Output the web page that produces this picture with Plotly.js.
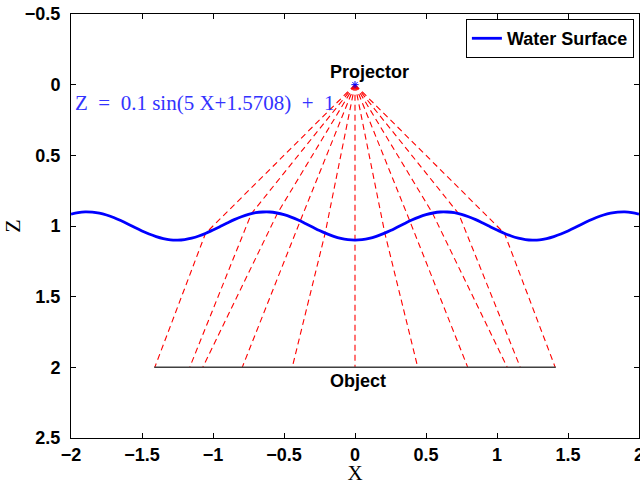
<!DOCTYPE html>
<html>
<head>
<meta charset="utf-8">
<script src="https://cdn.plot.ly/plotly-3.0.1.min.js"></script>
<style>html,body{margin:0;padding:0;background:#fff;}#chart{width:640px;height:485px;}</style>
</head>
<body>
<div id="chart"></div>
<script>
// Water surface samples (X, Z)
const surfX = [-2.00,-1.95,-1.90,-1.85,-1.80,-1.75,-1.70,-1.65,-1.60,-1.55,-1.50,-1.45,-1.40,-1.35,-1.30,-1.25,-1.20,-1.15,-1.10,-1.05,-1.00,-0.95,-0.90,-0.85,-0.80,-0.75,-0.70,-0.65,-0.60,-0.55,-0.50,-0.45,-0.40,-0.35,-0.30,-0.25,-0.20,-0.15,-0.10,-0.05,0.00,0.05,0.10,0.15,0.20,0.25,0.30,0.35,0.40,0.45,0.50,0.55,0.60,0.65,0.70,0.75,0.80,0.85,0.90,0.95,1.00,1.05,1.10,1.15,1.20,1.25,1.30,1.35,1.40,1.45,1.50,1.55,1.60,1.65,1.70,1.75,1.80,1.85,1.90,1.95,2.00];
const surfZ = [0.916,0.905,0.900,0.902,0.909,0.922,0.940,0.961,0.985,1.011,1.035,1.057,1.075,1.089,1.098,1.100,1.096,1.086,1.071,1.051,1.028,1.004,0.979,0.955,0.935,0.918,0.906,0.901,0.901,0.908,0.920,0.937,0.958,0.982,1.007,1.032,1.054,1.073,1.088,1.097,1.100,1.097,1.088,1.073,1.054,1.032,1.007,0.982,0.958,0.937,0.920,0.908,0.901,0.901,0.906,0.918,0.935,0.955,0.979,1.004,1.028,1.051,1.071,1.086,1.096,1.100,1.098,1.089,1.075,1.057,1.035,1.011,0.985,0.961,0.940,0.922,0.909,0.902,0.900,0.905,0.916];

// Projector position
const projX = [0];
const projZ = [0];

// Rays: where each hits the water surface and where it lands on the object
const raySurfX = [-1.053,-0.730,-0.545,-0.386,-0.210,0.000,0.210,0.386,0.545,0.730,1.053];
const raySurfZ = [1.053,0.913,0.908,0.965,1.050,1.100,1.050,0.965,0.908,0.913,1.053];
const rayEndX  = [-1.410,-1.164,-1.072,-0.794,-0.442,0.000,0.442,0.794,1.072,1.164,1.410];
const objectZ = 2;

// Object line
const objX = [-1.414, 1.414];
const objZ = [2, 2];

// Axis ticks
const xTicks = [-2,-1.5,-1,-0.5,0,0.5,1,1.5,2];
const yTicks = [-0.5,0,0.5,1,1.5,2,2.5];

const traces = [];
for (let i = 0; i < raySurfX.length; i++) {
  traces.push({
    type: 'scatter', mode: 'lines',
    x: [projX[0], raySurfX[i], rayEndX[i]],
    y: [projZ[0], raySurfZ[i], objectZ],
    line: {color: '#ff0000', width: 1.1, dash: '6px,4px'},
    showlegend: false, hoverinfo: 'skip'
  });
}
traces.push({
  type: 'scatter', mode: 'lines', x: objX, y: objZ,
  line: {color: '#404040', width: 1.5}, showlegend: false, hoverinfo: 'skip'
});
traces.push({
  type: 'scatter', mode: 'lines', name: 'Water Surface',
  x: surfX, y: surfZ,
  line: {color: '#0000ff', width: 2.8, shape: 'spline'}
});
traces.push({
  type: 'scatter', mode: 'markers', x: projX, y: projZ,
  marker: {symbol: 'asterisk-open', size: 6, color: '#0000ff', line: {color: '#0000ff', width: 1}},
  showlegend: false, hoverinfo: 'skip'
});

const fmt = v => '<b>' + (v < 0 ? '\u2212' : '') + Math.abs(v) + '</b>';
const tickFont = {family: 'Liberation Sans, Arial, sans-serif', size: 18, color: '#000'};
const layout = {
  width: 640, height: 485,
  margin: {l: 71, r: 1, t: 14, b: 47},
  paper_bgcolor: '#fff', plot_bgcolor: '#fff',
  font: {family: 'Liberation Sans, Arial, sans-serif', color: '#000'},
  xaxis: {
    range: [-2, 2], tickvals: xTicks, ticktext: xTicks.map(fmt),
    ticks: 'inside', ticklen: 5, tickcolor: '#000', showline: true, linecolor: '#000', linewidth: 1,
    mirror: 'allticks', showgrid: false, zeroline: false, ticklabeloverflow: 'allow',
    tickfont: tickFont, ticklabelstandoff: 0,
    title: {text: 'X', font: {family: 'Liberation Serif, DejaVu Serif, serif', size: 21, color: '#000'}, standoff: 2}
  },
  yaxis: {
    range: [2.5, -0.5], tickvals: yTicks, ticktext: yTicks.map(fmt),
    ticks: 'inside', ticklen: 5, tickcolor: '#000', showline: true, linecolor: '#000', linewidth: 1,
    mirror: 'allticks', showgrid: false, zeroline: false, ticklabeloverflow: 'allow',
    tickfont: tickFont, ticklabelstandoff: 6,
    title: {text: 'Z', font: {family: 'Liberation Serif, DejaVu Serif, serif', size: 22, color: '#000'}, standoff: 6}
  },
  showlegend: true,
  legend: {
    x: 0.991, y: 0.988, xanchor: 'right', yanchor: 'top',
    bgcolor: '#fff', bordercolor: '#000', borderwidth: 1,
    font: {family: 'Liberation Sans, Arial, sans-serif', size: 18, color: '#000', weight: 'bold'},
    tracegroupgap: 0
  },
  annotations: [
    {x: -0.19, y: -0.09, xref: 'x', yref: 'y', xanchor: 'left', text: '<b>Projector</b>', showarrow: false,
     font: {family: 'Liberation Sans, Arial, sans-serif', size: 18, color: '#000'}},
    {x: -0.19, y: 2.1, xref: 'x', yref: 'y', xanchor: 'left', text: '<b>Object</b>', showarrow: false,
     font: {family: 'Liberation Sans, Arial, sans-serif', size: 18, color: '#000'}},
    {x: -1.985, y: 0.127, xref: 'x', yref: 'y', xanchor: 'left', text: 'Z \u00a0=\u00a0 0.1 sin(5 X+1.5708) \u00a0+\u00a0 1', showarrow: false,
     font: {family: 'Liberation Serif, DejaVu Serif, serif', size: 21, color: '#3333ff'}}
  ]
};
Plotly.newPlot('chart', traces, layout, {displayModeBar: false, staticPlot: true});
</script>
</body>
</html>
